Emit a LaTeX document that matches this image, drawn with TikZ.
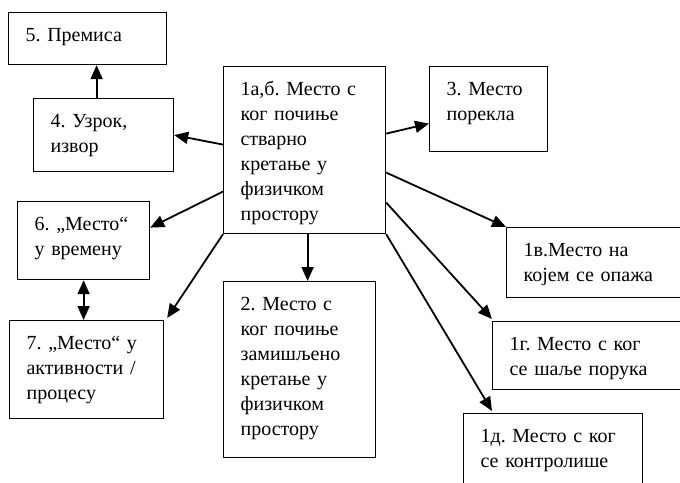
\documentclass[tikz,border=0pt]{standalone}
\usepackage{fontspec}
\setmainfont{Liberation Serif}
\usepackage{tikz}
\usetikzlibrary{positioning,arrows.meta,shapes}
\frenchspacing

\begin{document}
\begin{tikzpicture}[>={Triangle[width=12pt,length=14pt]}, box/.style={draw, line width=1.2pt, anchor=north west, align=left, inner xsep=17pt, inner ysep=0pt, text height=29pt, font={\fontsize{20}{25}\selectfont}}, link/.style={line width=1.8pt}]
	\clip (0pt, 0pt) rectangle (680pt, -482pt);
	\draw (8.0pt, -12.0pt)node[box, text width=124pt, text depth=23pt](5){5. Премиса};
	\draw (33.0pt, -98.0pt)node[box, text width=106pt, text depth=44pt](4){4. Узрок,\\ извор};
	\draw (223.0pt, -66.0pt)node[box, text width=128pt, text depth=138pt](1ab){1а,б. Место с\\ ког почиње\\ стварно\\ кретање у\\ физичком\\ простору};
	\draw (429.0pt, -66.0pt)node[box, text width=84pt, text depth=56pt](3){3. Место\\ порекла};
	\draw (17.0pt, -201.0pt)node[box, text width=98pt, text depth=49pt](6){6. „Место“\\ у времену};
	\draw (9.0pt, -320.0pt)node[box, text width=120pt, text depth=69pt](7){7. „Место“ у\\ активности /\\ процесу};
	\draw (223.0pt, -281.0pt)node[box, text width=118pt, text depth=147pt](2){2. Место с\\ ког почиње\\ замишљено\\ кретање у\\ физичком\\ простору};
	\draw (506.0pt, -227.0pt)node[box, text width=166pt, text depth=41pt](1v){1в.Место на\\ којем се опажа};
	\draw (492.0pt, -321.0pt)node[box, text width=166pt, text depth=39pt](1g){1г. Место с ког\\ се шаље порука};
	\draw (463.0pt, -413.0pt)node[box, text width=145pt, text depth=61pt](1d){1д. Место с ког\\ се контролише};
	\path[->, link] ([yshift=5.5pt]1ab.west) edge (4.east);
	\path[->, link] ([yshift=-41.5pt]1ab.west) edge ([yshift=13pt]6.east);
	\path[->, link] (1ab.south west) edge ([xshift=3pt, yshift=2pt]7.north east);
	\path[->, link] ([xshift=3pt]1ab.south) edge ([xshift=3pt]1ab.south |- 2.north);
	\path[->, link] ([yshift=16.5pt]1ab.east) edge ([yshift=-14.5pt]3.west);
	\path[->, link] ([yshift=-22.5pt]1ab.east) edge (1v.north west);
	\path[->, link] ([yshift=-52.5pt]1ab.east) edge ([yshift=2pt]1g.north west);
	\path[->, link] (1ab.south east) edge ([xshift=29pt, yshift=2pt]1d.north west);
	\path[->, link] ([xshift=-7pt]4.north) edge ([xshift=-7pt]4.north |- 5.south);
	\path[<->, link] (6.south) edge (6.south |- 7.north);
	\end{tikzpicture}
\end{document}
